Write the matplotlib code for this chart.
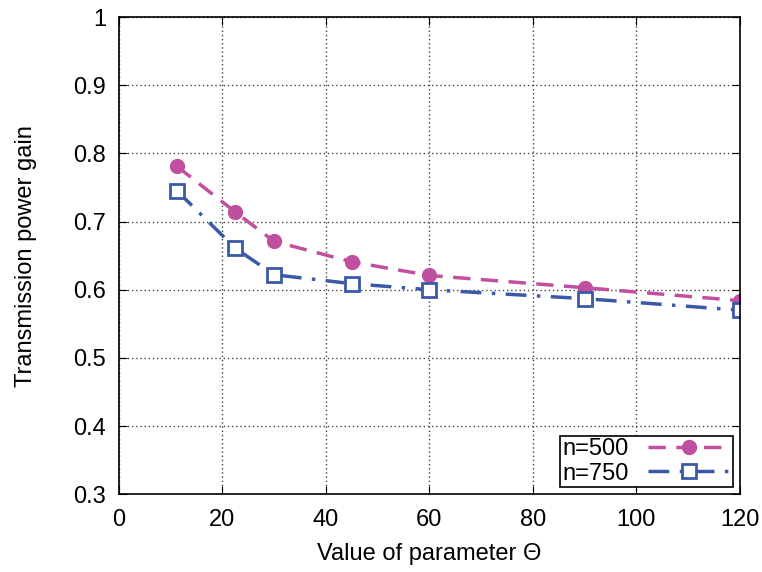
import matplotlib
matplotlib.use('Agg')
import matplotlib.pyplot as plt
from matplotlib import font_manager

names = set(f.name for f in font_manager.fontManager.ttflist)
fam = 'Liberation Sans Narrow' if 'Liberation Sans Narrow' in names else 'Liberation Sans'
plt.rcParams['font.family'] = [fam, 'DejaVu Sans']

theta = [11.25, 22.5, 30, 45, 60, 90, 120]
gain_500 = [0.781, 0.714, 0.671, 0.641, 0.621, 0.603, 0.584]
gain_750 = [0.745, 0.661, 0.622, 0.609, 0.600, 0.587, 0.570]

xticks = [0, 20, 40, 60, 80, 100, 120]
yticks = [0.3, 0.4, 0.5, 0.6, 0.7, 0.8, 0.9, 1.0]
yticklabels = ['0.3', '0.4', '0.5', '0.6', '0.7', '0.8', '0.9', '1']

fig = plt.figure(figsize=(7.62, 5.72), dpi=100)
ax = fig.add_axes([0.156, 0.136, 0.815, 0.834])

ax.plot(theta, gain_500, color='#c0509f', linestyle=(0, (5, 3)), linewidth=2.5,
        marker='o', markersize=10, label='n=500')
ax.plot(theta, gain_750, color='#3a5aa8', linestyle=(0, (6, 3, 1, 3)), linewidth=2.5,
        marker='s', markersize=10, markerfacecolor='white', markeredgewidth=2,
        label='n=750')

ax.set_xlim(0, 120)
ax.set_ylim(0.3, 1.0)
ax.set_xticks(xticks)
ax.set_yticks(yticks)
ax.set_yticklabels(yticklabels)
ax.tick_params(direction='in', top=True, right=True, length=6, labelsize=17)
ax.tick_params(axis='x', pad=11)
ax.tick_params(axis='y', pad=9)
ax.grid(True, color='#444444', linestyle=(0, (1, 2)), linewidth=1)
for s in ax.spines.values():
    s.set_linewidth(1.2)

ax.set_xlabel('Value of parameter Θ', fontsize=17, labelpad=8)
ax.set_ylabel('Transmission power gain', fontsize=17, labelpad=26)

leg = ax.legend(loc='lower right', markerfirst=False, fontsize=17, fancybox=False,
                framealpha=1, edgecolor='black', handlelength=3.5,
                borderpad=0.1, labelspacing=0.1, handletextpad=0.8,
                borderaxespad=0.3)
leg.get_frame().set_linewidth(1.2)

fig.savefig('out.png', dpi=100)
